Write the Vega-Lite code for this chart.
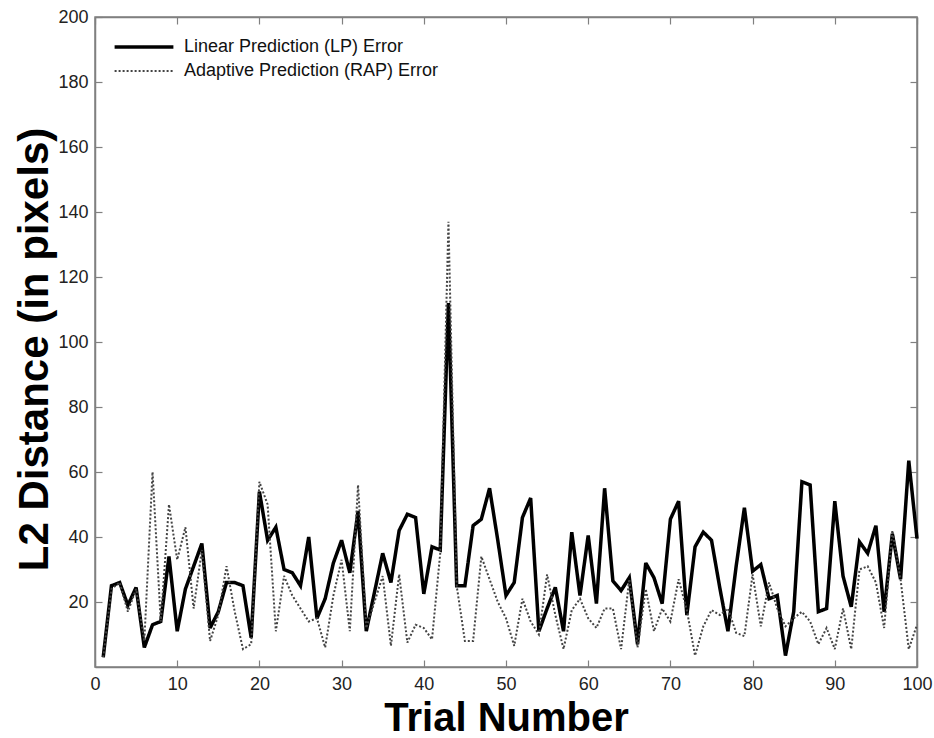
{
  "$schema": "https://vega.github.io/schema/vega-lite/v6.json",
  "width": 822,
  "height": 650,
  "autosize": {"type": "none"},
  "padding": {"left": 95, "top": 17, "right": 17, "bottom": 71},
  "background": "white",
  "config": {
    "view": {"stroke": "#808080", "strokeWidth": 1.5},
    "font": "Liberation Sans",
    "axis": {
      "grid": false,
      "domainColor": "#808080",
      "domainWidth": 1.5,
      "tickColor": "#808080",
      "tickWidth": 1.2,
      "tickSize": -7,
      "labelFont": "Liberation Sans",
      "labelFontSize": 18,
      "labelColor": "#222",
      "titleFont": "Liberation Sans",
      "titleFontWeight": "bold",
      "titleColor": "#000"
    }
  },
  "data": {
    "values": [
      {"trial":1,"LP":3,"RAP":3},{"trial":2,"LP":25,"RAP":24},{"trial":3,"LP":26,"RAP":26},{"trial":4,"LP":19,"RAP":17},{"trial":5,"LP":24.5,"RAP":24},
      {"trial":6,"LP":6,"RAP":8},{"trial":7,"LP":13,"RAP":60},{"trial":8,"LP":14,"RAP":14},{"trial":9,"LP":34,"RAP":50},{"trial":10,"LP":11,"RAP":33},
      {"trial":11,"LP":24,"RAP":43},{"trial":12,"LP":31,"RAP":18},{"trial":13,"LP":38,"RAP":36},{"trial":14,"LP":12,"RAP":8},{"trial":15,"LP":17,"RAP":16},
      {"trial":16,"LP":26,"RAP":31},{"trial":17,"LP":26,"RAP":17},{"trial":18,"LP":25,"RAP":5.5},{"trial":19,"LP":9,"RAP":7},{"trial":20,"LP":54,"RAP":57},
      {"trial":21,"LP":39,"RAP":50},{"trial":22,"LP":43,"RAP":11},{"trial":23,"LP":30,"RAP":28},{"trial":24,"LP":29,"RAP":22},{"trial":25,"LP":25,"RAP":18},
      {"trial":26,"LP":40,"RAP":14},{"trial":27,"LP":15,"RAP":15},{"trial":28,"LP":21,"RAP":6},{"trial":29,"LP":32,"RAP":22},{"trial":30,"LP":39,"RAP":33},
      {"trial":31,"LP":29,"RAP":11},{"trial":32,"LP":48,"RAP":56},{"trial":33,"LP":11,"RAP":12},{"trial":34,"LP":23,"RAP":20},{"trial":35,"LP":35,"RAP":28},
      {"trial":36,"LP":26,"RAP":6.5},{"trial":37,"LP":42,"RAP":28.5},{"trial":38,"LP":47,"RAP":7.5},{"trial":39,"LP":46,"RAP":13},{"trial":40,"LP":22.5,"RAP":12},
      {"trial":41,"LP":37,"RAP":8.5},{"trial":42,"LP":36,"RAP":35},{"trial":43,"LP":112,"RAP":137},{"trial":44,"LP":25,"RAP":25},{"trial":45,"LP":25,"RAP":8},
      {"trial":46,"LP":43.5,"RAP":8},{"trial":47,"LP":45.5,"RAP":34},{"trial":48,"LP":55,"RAP":27},{"trial":49,"LP":39,"RAP":20},{"trial":50,"LP":22,"RAP":15},
      {"trial":51,"LP":26,"RAP":6.5},{"trial":52,"LP":46,"RAP":21},{"trial":53,"LP":52,"RAP":14},{"trial":54,"LP":11,"RAP":10},{"trial":55,"LP":18,"RAP":28.5},
      {"trial":56,"LP":24.5,"RAP":16},{"trial":57,"LP":11,"RAP":5.5},{"trial":58,"LP":41.5,"RAP":17.5},{"trial":59,"LP":22,"RAP":21},{"trial":60,"LP":40.5,"RAP":15},
      {"trial":61,"LP":19.5,"RAP":12},{"trial":62,"LP":55,"RAP":18},{"trial":63,"LP":26.5,"RAP":18},{"trial":64,"LP":23.5,"RAP":5.5},{"trial":65,"LP":27.5,"RAP":27},
      {"trial":66,"LP":7,"RAP":6},{"trial":67,"LP":32,"RAP":24},{"trial":68,"LP":27.5,"RAP":11},{"trial":69,"LP":19.5,"RAP":18},{"trial":70,"LP":45.5,"RAP":14},
      {"trial":71,"LP":51,"RAP":27},{"trial":72,"LP":16,"RAP":17.5},{"trial":73,"LP":37,"RAP":3.5},{"trial":74,"LP":41.5,"RAP":12.5},{"trial":75,"LP":39,"RAP":17.5},
      {"trial":76,"LP":24.5,"RAP":16},{"trial":77,"LP":11,"RAP":18},{"trial":78,"LP":31,"RAP":10.5},{"trial":79,"LP":49,"RAP":9.5},{"trial":80,"LP":29.5,"RAP":28.5},
      {"trial":81,"LP":31.5,"RAP":12.5},{"trial":82,"LP":21,"RAP":26},{"trial":83,"LP":22,"RAP":18},{"trial":84,"LP":3.5,"RAP":12.5},{"trial":85,"LP":17,"RAP":15},
      {"trial":86,"LP":57,"RAP":17},{"trial":87,"LP":56,"RAP":14},{"trial":88,"LP":17,"RAP":7},{"trial":89,"LP":18,"RAP":12},{"trial":90,"LP":51,"RAP":5.5},
      {"trial":91,"LP":28,"RAP":18},{"trial":92,"LP":18.5,"RAP":5.5},{"trial":93,"LP":38.5,"RAP":30},{"trial":94,"LP":35,"RAP":31},{"trial":95,"LP":43.5,"RAP":26},
      {"trial":96,"LP":17,"RAP":12},{"trial":97,"LP":41,"RAP":42},{"trial":98,"LP":27,"RAP":27},{"trial":99,"LP":63.5,"RAP":5.5},{"trial":100,"LP":39.5,"RAP":13}
    ]
  },
  "transform": [{"fold": ["LP", "RAP"], "as": ["series", "value"]}],
  "layer": [
    {
      "mark": {"type": "line", "strokeJoin": "miter", "strokeMiterLimit": 3},
      "encoding": {
        "x": {
          "field": "trial", "type": "quantitative",
          "scale": {"domain": [0, 100], "nice": false},
          "axis": {"values": [0,10,20,30,40,50,60,70,80,90,100], "title": "Trial Number", "titleFontSize": 40, "labelPadding": 15, "titleBaseline": "alphabetic", "titleY": 63, "labelFlush": false}
        },
        "y": {
          "field": "value", "type": "quantitative",
          "scale": {"domain": [0, 200], "nice": false},
          "axis": {"values": [20,40,60,80,100,120,140,160,180,200], "title": "L2 Distance (in pixels)", "titleFontSize": 42, "labelPadding": 14, "titleX": -39, "titleY": 332, "titleBaseline": "bottom"}
        },
        "color": {
          "field": "series", "type": "nominal",
          "scale": {"domain": ["LP", "RAP"], "range": ["#000000", "#444444"]},
          "legend": {
            "title": null, "orient": "none", "legendX": 33, "legendY": 14,
            "symbolType": "M-2.1,0H2.1", "symbolSize": 784, "labelFontSize": 18, "labelFont": "Liberation Sans", "labelColor": "#111",
            "labelOffset": 24, "rowPadding": 0, "padding": 0, "labelLimit": 0,
            "labelExpr": "datum.label == 'LP' ? 'Linear Prediction (LP) Error' : 'Adaptive Prediction (RAP) Error'"
          }
        },
        "strokeDash": {
          "field": "series", "type": "nominal",
          "scale": {"domain": ["LP", "RAP"], "range": [[1, 0], [2, 2]]},
          "legend": null
        },
        "strokeWidth": {
          "field": "series", "type": "nominal",
          "scale": {"domain": ["LP", "RAP"], "range": [3.5, 2]},
          "legend": null
        }
      }
    },
    {
      "mark": {"type": "line", "opacity": 0},
      "encoding": {
        "x": {"field": "trial", "type": "quantitative", "axis": {"orient": "top", "labels": false, "title": null, "values": [0,10,20,30,40,50,60,70,80,90,100]}},
        "y": {"field": "value", "type": "quantitative", "axis": {"orient": "right", "labels": false, "title": null, "values": [20,40,60,80,100,120,140,160,180,200]}},
        "detail": {"field": "series"}
      }
    }
  ],
  "resolve": {"axis": {"x": "independent", "y": "independent"}}
}
